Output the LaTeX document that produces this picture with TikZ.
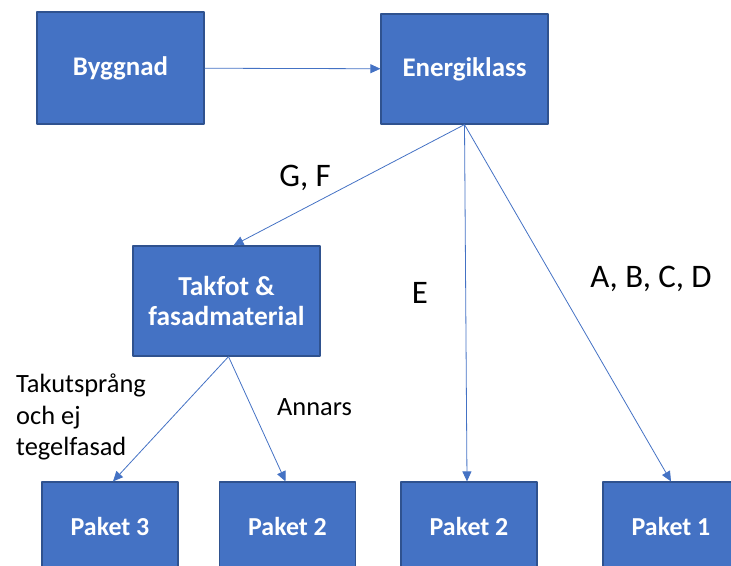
\documentclass[tikz,border=0pt]{standalone}
\usepackage{fontspec}
\setmainfont{Carlito}
\usepackage{tikz}
\usetikzlibrary{arrows.meta}
\usetikzlibrary{shapes}
\definecolor{boxblue}{HTML}{4472C4}
\definecolor{boxedge}{HTML}{2F528F}

\begin{document}
\begin{tikzpicture}[>={Triangle[length=10bp,width=9bp]},line join=bevel,
  box/.style={draw=boxedge,line width=1.2bp,fill=boxblue,text=white,align=center,
    font=\fontsize{27}{31}\selectfont\bfseries,inner sep=0pt},
  paket/.style={box,minimum width=136bp,minimum height=90bp,
    font=\fontsize{26}{31}\selectfont\bfseries},
  link/.style={boxblue,line width=0.8bp,->},
  lbl/.style={text=black,inner sep=0pt,font=\fontsize{33}{38}\selectfont},
  note/.style={text=black,inner sep=0pt,align=left,font=\fontsize{26.5}{32}\selectfont}]
\clip (0bp,0bp) rectangle (731bp,566bp);
\useasboundingbox (0bp,0bp) rectangle (731bp,566bp);
%%
\node (node_byggnad) at (120.5bp,498bp) [box,minimum width=167bp,minimum height=112bp] {Byggnad};
  \node (node_energi) at (464.5bp,497bp) [box,minimum width=167bp,minimum height=110bp] {Energiklass};
  \node (node_takfot) at (226.5bp,265bp) [box,minimum width=187bp,minimum height=110bp,
    font=\fontsize{27.5}{30}\selectfont\bfseries] {Takfot \&\\fasadmaterial};
  \node (node_paket3) at (110bp,39bp) [paket] {Paket 3};
  \node (node_paket2a) at (287.5bp,39bp) [paket] {Paket 2};
  \node (node_paket2b) at (469bp,39bp) [paket] {Paket 2};
  \node (node_paket1) at (671bp,39bp) [paket] {Paket 1};
  \node (lbl_gf) at (305bp,388bp) [lbl] {G, F};
  \node (lbl_e) at (420bp,273bp) [lbl] {E};
  \node (lbl_abcd) at (651bp,287bp) [lbl] {A, B, C, D};
  \node (lbl_tak) at (16bp,149bp) [note,anchor=west] {Takutsprång\\och ej\\tegelfasad};
  \node (lbl_annars) at (314.5bp,159bp) [note] {Annars};
  \draw [link] (node_byggnad) -- (node_energi);
  \draw [link] (node_energi.south) -- ([xshift=7bp]node_takfot.north);
  \draw [link] (node_energi.south) -- ([xshift=-2bp]node_paket2b.north);
  \draw [link] (node_energi.south) -- (node_paket1.north);
  \draw [link] ([xshift=2bp]node_takfot.south) -- ([xshift=3bp]node_paket3.north);
  \draw [link] ([xshift=2bp]node_takfot.south) -- ([xshift=-2bp]node_paket2a.north);
%
\end{tikzpicture}
\end{document}
